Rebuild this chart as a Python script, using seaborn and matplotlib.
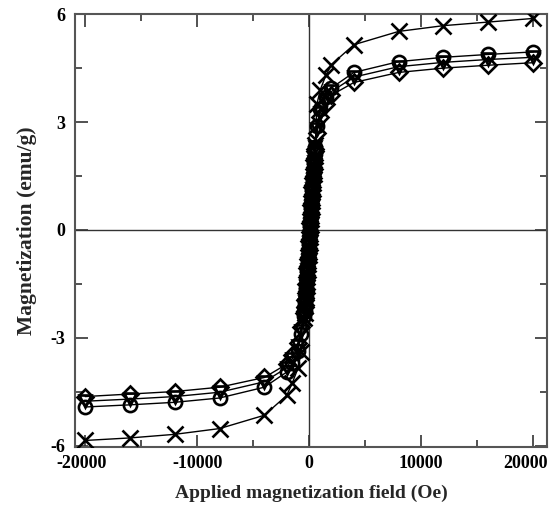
import matplotlib
matplotlib.use("Agg")
import matplotlib.pyplot as plt
import matplotlib.transforms as mtransforms
import seaborn as sns
import pandas as pd
from matplotlib.ticker import MultipleLocator

# applied field (Oe) for the outer points, negative and positive side
H_neg = [-20000, -16000, -12000, -8000, -4000, -2000, -1500, -1000, -700]
H_pos = [700, 1000, 1500, 2000, 4000, 8000, 12000, 16000, 20000]
# dense points around zero field
H_in = [-450, -400, -350, -300, -250, -200, -150, -100, -50, 0, 50,
        100, 150, 200, 250, 300, 350, 400, 450, 500, 550]

# magnetization (emu/g)
M_cross_neg = [-5.85, -5.78, -5.68, -5.52, -5.15, -4.6, -4.25, -3.85, -3.4]
M_cross_pos = [3.5, 3.9, 4.3, 4.6, 5.15, 5.52, 5.68, 5.78, 5.88]
M_cross_in = [-2.45, -2.3, -2.1, -1.9, -1.7, -1.45, -1.2, -0.95, -0.7, -0.45, -0.2,
              0.05, 0.3, 0.55, 0.8, 1.05, 1.3, 1.55, 1.8, 2.05, 2.35]

M_circ_neg = [-4.92, -4.86, -4.79, -4.67, -4.37, -3.95, -3.7, -3.35, -2.9]
M_circ_pos = [2.9, 3.35, 3.7, 3.95, 4.38, 4.68, 4.8, 4.88, 4.95]
M_circ_in = [-2.4, -2.25, -2.05, -1.85, -1.6, -1.4, -1.15, -0.9, -0.65, -0.4, -0.15,
             0.1, 0.35, 0.6, 0.85, 1.1, 1.35, 1.6, 1.85, 2.1, 2.3]

M_tri_neg = [-4.76, -4.7, -4.63, -4.51, -4.22, -3.83, -3.58, -3.23, -2.8]
M_tri_pos = [2.8, 3.25, 3.6, 3.85, 4.25, 4.54, 4.66, 4.74, 4.8]
M_tri_in = [-2.35, -2.2, -2.0, -1.8, -1.55, -1.35, -1.1, -0.85, -0.6, -0.35, -0.1,
            0.15, 0.4, 0.65, 0.9, 1.15, 1.4, 1.65, 1.9, 2.15, 2.3]

M_dia_neg = [-4.63, -4.56, -4.49, -4.37, -4.1, -3.73, -3.48, -3.13, -2.7]
M_dia_pos = [2.7, 3.15, 3.5, 3.75, 4.1, 4.38, 4.5, 4.58, 4.65]
M_dia_in = [-2.3, -2.15, -1.95, -1.75, -1.5, -1.3, -1.05, -0.8, -0.55, -0.3, -0.05,
            0.2, 0.45, 0.7, 0.95, 1.2, 1.45, 1.7, 1.95, 2.2, 2.25]

series = [
    ("x", M_cross_neg, M_cross_in, M_cross_pos, 11.5),
    ("o", M_circ_neg, M_circ_in, M_circ_pos, 9.5),
    ("v", M_tri_neg, M_tri_in, M_tri_pos, 9),
    ("D", M_dia_neg, M_dia_in, M_dia_pos, 8),
]

sns.set_theme(style="ticks")
plt.rcParams["font.family"] = ["Liberation Serif", "DejaVu Serif"]
plt.rcParams["font.weight"] = "bold"
plt.rcParams["axes.unicode_minus"] = False

fig = plt.figure(figsize=(5.52, 5.05), dpi=100)
ax = fig.add_axes([0.136, 0.115, 0.855, 0.857])

ax.axhline(0, color="#333333", lw=1.0, zorder=1)
ax.axvline(0, color="#333333", lw=1.0, zorder=1)

for mk, mneg, min_, mpos, ms in series:
    df = pd.DataFrame({"H": H_neg + H_in + H_pos, "M": mneg + min_ + mpos})
    sns.lineplot(data=df, x="H", y="M", ax=ax, color="black", lw=1.0,
                 marker=mk, markersize=ms, mfc="none", mec="black",
                 markeredgewidth=1.9, sort=True, estimator=None, zorder=3)

ax.set_xlim(-20900, 21250)
ax.set_ylim(-6.03, 6.0)
ax.xaxis.set_major_locator(MultipleLocator(10000))
ax.xaxis.set_minor_locator(MultipleLocator(5000))
ax.yaxis.set_major_locator(MultipleLocator(3))
ax.yaxis.set_minor_locator(MultipleLocator(1.5))
ax.tick_params(which="both", direction="in", top=True, right=True,
               colors="#333333", labelcolor="black", labelsize=13, width=1.2)
ax.tick_params(which="major", length=9)
ax.tick_params(which="minor", length=5)
ax.tick_params(axis="x", pad=6)
ax.tick_params(axis="y", pad=7)

fig.canvas.draw()
xlabels = ax.get_xticklabels()
for lab in xlabels + ax.get_yticklabels():
    lab.set_fontweight("bold")
# the outer labels sit a little inward in the original
for lab in xlabels:
    if lab.get_text() == "20000":
        lab.set_transform(lab.get_transform() +
                          mtransforms.ScaledTranslation(-8 / 100, 0, fig.dpi_scale_trans))
    if lab.get_text() == "-20000":
        lab.set_transform(lab.get_transform() +
                          mtransforms.ScaledTranslation(-4 / 100, 0, fig.dpi_scale_trans))

for sp in ax.spines.values():
    sp.set_linewidth(1.5)
    sp.set_color("#555555")

ax.set_xlabel("Applied magnetization field (Oe)", fontsize=14, fontweight="bold", labelpad=9)
ax.set_ylabel("Magnetization (emu/g)", fontsize=15.5, fontweight="bold", labelpad=10)

fig.savefig("out.png", dpi=100)
